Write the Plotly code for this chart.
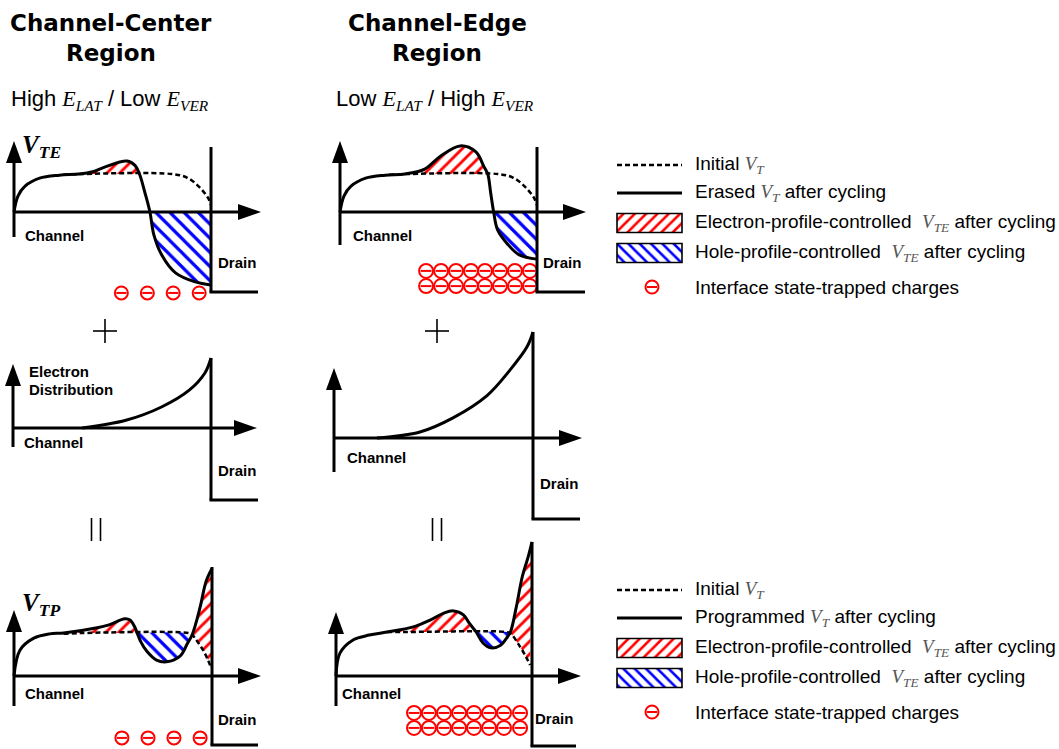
import plotly.graph_objects as go

W, H = 1059, 749
SANS = "Liberation Sans, Arial, sans-serif"
TITLE_FONT = "DejaVu Sans, Verdana, sans-serif"
SERIF = "Liberation Serif"
RED = "#ff0000"
BLUE = "#0000ff"
BLACK = "#000000"

# ---------------- data (panel units) ----------------
# x: 0 = channel origin, 1 = drain junction ; y: 0 = channel axis, 1 = initial V_T plateau
initial_erase_x = [0.25, 0.35, 0.80, 0.88, 0.94, 0.985, 1.0]
initial_erase_y = [0.98, 1.00, 1.00, 0.90, 0.66, 0.37, 0.18]

center_vte_x = [0, 0.02, 0.056, 0.13, 0.23, 0.33, 0.40, 0.46, 0.574, 0.615, 0.637, 0.665, 0.69, 0.71, 0.75, 0.82, 0.92, 1.0]
center_vte_y = [0, 0.42, 0.68, 0.89, 0.97, 1.00, 1.06, 1.18, 1.34, 1.22, 1.00, 0.50, 0, -0.60, -1.13, -1.60, -1.84, -1.92]

edge_vte_x = [0, 0.02, 0.056, 0.13, 0.23, 0.33, 0.43, 0.51, 0.61, 0.69, 0.73, 0.75, 0.765, 0.78, 0.80, 0.85, 0.91, 1.0]
edge_vte_y = [0, 0.42, 0.68, 0.89, 0.97, 1.00, 1.13, 1.47, 1.74, 1.58, 1.20, 1.00, 0.50, 0, -0.47, -0.84, -1.13, -1.24]

center_dist_x = [0.35, 0.57, 0.75, 0.89, 0.97, 1.0]
center_dist_y = [0, 0.11, 0.30, 0.54, 0.79, 1.0]
edge_dist_x = [0.216, 0.432, 0.598, 0.769, 0.884, 0.97, 1.0]
edge_dist_y = [0, 0.057, 0.19, 0.40, 0.64, 0.86, 1.0]

center_vtp_x = [0, 0.03, 0.10, 0.18, 0.25, 0.42, 0.48, 0.56, 0.586, 0.61, 0.622, 0.64, 0.67, 0.72, 0.77, 0.84, 0.875, 0.90, 0.94, 0.97, 1.0]
center_vtp_y = [0, 0.60, 0.88, 0.98, 1.00, 1.12, 1.19, 1.33, 1.30, 1.14, 1.00, 0.80, 0.58, 0.37, 0.33, 0.47, 0.75, 0.96, 1.60, 2.20, 2.50]
initial_center_vtp_x = [0.25, 0.35, 0.88, 0.90, 0.92, 0.955, 0.98, 0.995]
initial_center_vtp_y = [0.98, 1.00, 1.00, 0.96, 0.84, 0.60, 0.37, 0.19]

edge_vtp_x = [0, 0.02, 0.087, 0.17, 0.26, 0.39, 0.48, 0.55, 0.60, 0.65, 0.68, 0.715, 0.75, 0.79, 0.84, 0.87, 0.89, 0.92, 0.95, 0.98, 1.0]
edge_vtp_y = [0, 0.52, 0.82, 0.93, 1.00, 1.11, 1.27, 1.43, 1.48, 1.39, 1.20, 1.00, 0.75, 0.64, 0.70, 0.86, 1.00, 1.57, 2.25, 2.70, 3.05]
initial_edge_vtp_x = [0.26, 0.35, 0.87, 0.89, 0.94, 0.97, 0.99]
initial_edge_vtp_y = [1.00, 1.00, 1.00, 0.97, 0.66, 0.43, 0.25]

# interface-state trapped charges (panel units)
center_vte_charge_x = [0.545, 0.677, 0.808, 0.94]
center_vte_charge_y = [-2.13, -2.13, -2.13, -2.13]
center_vtp_charge_x = [0.545, 0.677, 0.808, 0.94]
center_vtp_charge_y = [-1.44, -1.44, -1.44, -1.44]
edge_vte_charge_x = [0.437, 0.513, 0.589, 0.665, 0.736, 0.812, 0.888, 0.964] * 2
edge_vte_charge_y = [-1.55] * 8 + [-1.95] * 8
edge_vtp_charge_x = [0.398, 0.474, 0.551, 0.628, 0.704, 0.781, 0.857, 0.939] * 2
edge_vtp_charge_y = [-0.84] * 8 + [-1.18] * 8

# text
titles = ["Channel-Center", "Channel-Edge"]
legend_top = ["Initial {VT}", "Erased {VT} after cycling",
              "Electron-profile-controlled\u00a0 {VTE} after cycling",
              "Hole-profile-controlled\u00a0 {VTE} after cycling",
              "Interface state-trapped charges"]
legend_bottom = ["Initial {VT}", "Programmed {VT} after cycling",
                 "Electron-profile-controlled\u00a0 {VTE} after cycling",
                 "Hole-profile-controlled\u00a0 {VTE} after cycling",
                 "Interface state-trapped charges"]

# ---------------- layout geometry (pixels) ----------------
# panel: origin x, axis y, drain x, pixels per y-unit
GEOM = {
    1: (14, 212, 211, 38),
    2: (340, 212, 537, 38),
    3: (13, 428, 211, 70),
    4: (334, 438, 533, 106),
    5: (14, 676, 212, 43),
    6: (336, 676, 532, 44),
}
DECOR = {
    1: dict(ytip=141, ybot=237, xtip=261, dtop=147, dbot=292, dend=258),
    2: dict(ytip=141, ybot=245, xtip=586, dtop=147, dbot=292, dend=585),
    3: dict(ytip=364, ybot=447, xtip=257, dtop=358, dbot=500, dend=258),
    4: dict(ytip=368, ybot=472, xtip=582, dtop=332, dbot=519, dend=580),
    5: dict(ytip=610, ybot=706, xtip=261, dtop=567, dbot=745, dend=258),
    6: dict(ytip=612, ybot=706, xtip=581, dtop=542, dbot=746, dend=576),
}

fig = go.Figure()


def ax(i):
    return ('x' if i == 1 else f'x{i}'), ('y' if i == 1 else f'y{i}')


def seg(xs, ys, lo, hi):
    pts = [(x, y) for x, y in zip(xs, ys) if lo - 1e-9 <= x <= hi + 1e-9]
    return [p[0] for p in pts], [p[1] for p in pts]


def hatch(i, bx, by, tx, ty, color, shape, size):
    xa, ya = ax(i)
    fig.add_trace(go.Scatter(x=bx, y=by, xaxis=xa, yaxis=ya, mode='lines',
                             line=dict(width=0, color='rgba(0,0,0,0)', shape='spline'),
                             hoverinfo='skip', showlegend=False))
    fig.add_trace(go.Scatter(x=tx, y=ty, xaxis=xa, yaxis=ya, mode='lines',
                             line=dict(width=0, color='rgba(0,0,0,0)', shape='spline'),
                             fill='tonexty',
                             fillpattern=dict(shape=shape, fgcolor=color, bgcolor='white',
                                              size=size, solidity=0.32, fillmode='replace'),
                             hoverinfo='skip', showlegend=False))


def curve(i, xs, ys, dash=None, width=3):
    xa, ya = ax(i)
    fig.add_trace(go.Scatter(x=xs, y=ys, xaxis=xa, yaxis=ya, mode='lines',
                             line=dict(color=BLACK, width=width, dash=dash, shape='spline', smoothing=1),
                             hoverinfo='skip', showlegend=False))


def charges(i, xs, ys, size=13, xref=None):
    xa, ya = ax(i) if xref is None else xref
    fig.add_trace(go.Scatter(x=xs, y=ys, xaxis=xa, yaxis=ya, mode='markers',
                             marker=dict(symbol='circle-open', size=size, color=RED,
                                         line=dict(width=2, color=RED)),
                             hoverinfo='skip', showlegend=False))
    fig.add_trace(go.Scatter(x=xs, y=ys, xaxis=xa, yaxis=ya, mode='markers',
                             marker=dict(symbol='line-ew', size=size * 0.55, color=RED,
                                         line=dict(width=2, color=RED)),
                             hoverinfo='skip', showlegend=False))


DASH = '5px,3px'
RS, BS = 9, 10

# --- hatched regions ---
# panel 1: center V_TE
x, y = seg(center_vte_x, center_vte_y, 0.33, 0.637)
hatch(1, [x[0], x[-1]], [1, 1], x, y, RED, '/', RS)
x, y = seg(center_vte_x, center_vte_y, 0.69, 1.0)
hatch(1, [x[0], x[-1]], [0, 0], x, y, BLUE, '\\', BS)
# panel 2: edge V_TE
x, y = seg(edge_vte_x, edge_vte_y, 0.33, 0.75)
hatch(2, [x[0], x[-1]], [1, 1], x, y, RED, '/', RS)
x, y = seg(edge_vte_x, edge_vte_y, 0.78, 1.0)
hatch(2, [x[0], x[-1]], [0, 0], x, y, BLUE, '\\', BS)
# panel 5: center V_TP
x, y = seg(center_vtp_x, center_vtp_y, 0.25, 0.622)
hatch(5, [x[0], x[-1]], [1, 1], x, y, RED, '/', RS)
x, y = seg(center_vtp_x, center_vtp_y, 0.622, 0.90)
bx, by = seg(initial_center_vtp_x, initial_center_vtp_y, 0.622, 0.90)
hatch(5, [0.622] + bx, [1.0] + by, x, y, BLUE, '\\', BS)
x, y = seg(center_vtp_x, center_vtp_y, 0.90, 1.0)
bx, by = seg(initial_center_vtp_x, initial_center_vtp_y, 0.90, 1.0)
hatch(5, bx, by, x, y, RED, '/', RS)
# panel 6: edge V_TP
x, y = seg(edge_vtp_x, edge_vtp_y, 0.26, 0.715)
hatch(6, [x[0], x[-1]], [1, 1], x, y, RED, '/', RS)
x, y = seg(edge_vtp_x, edge_vtp_y, 0.715, 0.89)
bx, by = seg(initial_edge_vtp_x, initial_edge_vtp_y, 0.715, 0.89)
hatch(6, [0.715] + bx, [1.0] + by, x, y, BLUE, '\\', BS)
x, y = seg(edge_vtp_x, edge_vtp_y, 0.89, 1.0)
bx, by = seg(initial_edge_vtp_x, initial_edge_vtp_y, 0.89, 1.0)
hatch(6, bx, by, x, y, RED, '/', RS)

# --- curves ---
curve(1, initial_erase_x, initial_erase_y, dash=DASH, width=2.5)
curve(2, initial_erase_x, initial_erase_y, dash=DASH, width=2.5)
curve(5, initial_center_vtp_x, initial_center_vtp_y, dash=DASH, width=2.5)
curve(6, initial_edge_vtp_x, initial_edge_vtp_y, dash=DASH, width=2.5)
curve(1, center_vte_x, center_vte_y)
curve(2, edge_vte_x, edge_vte_y)
curve(3, center_dist_x, center_dist_y)
curve(4, edge_dist_x, edge_dist_y)
curve(5, center_vtp_x, center_vtp_y)
curve(6, edge_vtp_x, edge_vtp_y)

# --- charges ---
charges(1, center_vte_charge_x, center_vte_charge_y, 13)
charges(5, center_vtp_charge_x, center_vtp_charge_y, 13)
charges(2, edge_vte_charge_x, edge_vte_charge_y, 14)
charges(6, edge_vtp_charge_x, edge_vtp_charge_y, 14)

# --- axes decorations (pixel space) ---
shapes = []


def pline(x0, y0, x1, y1, w=3, color=BLACK, dash=None):
    shapes.append(dict(type='line', xref='x7', yref='y7', x0=x0, y0=y0, x1=x1, y1=y1,
                       line=dict(color=color, width=w, dash=dash), layer='above'))


def ppath(path):
    shapes.append(dict(type='path', xref='x7', yref='y7', path=path, fillcolor=BLACK,
                       line=dict(width=0), layer='above'))


for i, (ox, oy, dx, uy) in GEOM.items():
    d = DECOR[i]
    pline(ox, d['ybot'], ox, d['ytip'] + 12)
    ppath(f"M{ox-8},{d['ytip']+22} L{ox+8},{d['ytip']+22} L{ox},{d['ytip']} Z")
    pline(ox, oy, d['xtip'] - 12, oy)
    ppath(f"M{d['xtip']-23},{oy-8} L{d['xtip']-23},{oy+8} L{d['xtip']},{oy} Z")
    pline(dx, d['dtop'], dx, d['dbot'])
    pline(dx - 1.5, d['dbot'], d['dend'], d['dbot'])

# plus and equals signs
for cx in (105, 437):
    pline(cx - 12, 331, cx + 12, 331, w=1.6)
    pline(cx, 319, cx, 343, w=1.6)
for cx in (96, 437):
    pline(cx - 4.5, 518, cx - 4.5, 541, w=1.6)
    pline(cx + 4.5, 518, cx + 4.5, 541, w=1.6)

# --- legends ---
ann = []


def label(x, y, text, size=15, bold=True, family=SANS, xanchor='left', color=BLACK):
    ann.append(dict(x=x, y=y, xref='x7', yref='y7', text=(f'<b>{text}</b>' if bold else text),
                    showarrow=False, xanchor=xanchor, yanchor='middle',
                    font=dict(family=family, size=size, color=color)))


VT = f'<span style="font-family:{SERIF};color:#555555"><i>V</i><sub><i>T</i></sub></span>'
VTE = f'<span style="font-family:{SERIF};color:#555555"><i>V</i><sub><i>TE</i></sub></span>'

for texts, ys in ((legend_top, (165, 193, 223, 253, 287)), (legend_bottom, (590, 618, 648, 678, 712))):
    pline(617, ys[0], 682, ys[0], w=2.5, dash='5px,3px')
    pline(617, ys[1], 682, ys[1], w=3)
    for k, (col, shp) in enumerate(((RED, '/'), (BLUE, '\\'))):
        yc = ys[2 + k]
        y0, y1 = yc - 9.5, yc + 9.5
        fig.add_trace(go.Scatter(x=[617, 682, 682, 617, 617], y=[y0, y0, y1, y1, y0],
                                 xaxis='x7', yaxis='y7', mode='lines', fill='toself',
                                 line=dict(width=0, color='rgba(0,0,0,0)'),
                                 fillpattern=dict(shape=shp, fgcolor=col, bgcolor='white',
                                                  size=8, solidity=0.32, fillmode='replace'),
                                 hoverinfo='skip', showlegend=False))
        shapes.append(dict(type='rect', xref='x7', yref='y7', x0=617, x1=682, y0=y0, y1=y1,
                           line=dict(color=BLACK, width=1.6), layer='above'))
    charges(None, [652], [ys[4]], 13, xref=('x7', 'y7'))
    for t, yy in zip(texts, ys):
        label(693, yy, t.format(VT=VT, VTE=VTE), size=19, bold=False)

# --- titles ---
for cx, t in ((111, titles[0]), (437, titles[1])):
    label(cx, 23, t, size=23, family=TITLE_FONT, xanchor='center')
    label(cx, 53, 'Region', size=23, family=TITLE_FONT, xanchor='center')

EL = f'<span style="font-family:{SERIF}"><i>E</i><sub><i>LAT</i></sub></span>'
EV = f'<span style="font-family:{SERIF}"><i>E</i><sub><i>VER</i></sub></span>'
label(9, 100, f'High {EL} / Low {EV}', size=22, bold=False)
label(334, 100, f'Low {EL} / High {EV}', size=22, bold=False)

# axis titles
label(20, 146, f'<span style="font-family:{SERIF}"><i>V</i><sub><i>TE</i></sub></span>', size=25)
label(20, 604, f'<span style="font-family:{SERIF}"><i>V</i><sub><i>TP</i></sub></span>', size=25)
label(27, 371, 'Electron', size=15)
label(27, 389, 'Distribution', size=15)

for i, (cxl, cyl, dxl, dyl) in {1: (23, 235, 216, 262), 2: (351, 235, 541, 262),
                                 3: (22, 442, 216, 470), 4: (345, 457, 538, 483),
                                 5: (23, 693, 216, 719), 6: (340, 693, 533, 718)}.items():
    label(cxl, cyl, 'Channel', size=15)
    label(dxl, dyl, 'Drain', size=15)

# ---------------- layout ----------------
layout = dict(width=W, height=H, margin=dict(l=0, r=0, t=0, b=0, pad=0),
              paper_bgcolor='white', plot_bgcolor='rgba(0,0,0,0)',
              showlegend=False, shapes=shapes, annotations=ann)
for i, (ox, oy, dx, uy) in GEOM.items():
    ux = dx - ox
    xa = 'xaxis' if i == 1 else f'xaxis{i}'
    ya = 'yaxis' if i == 1 else f'yaxis{i}'
    layout[xa] = dict(domain=[0, 1], range=[-ox / ux, (W - ox) / ux], visible=False,
                      fixedrange=True, anchor=('y' if i == 1 else f'y{i}'))
    layout[ya] = dict(domain=[0, 1], range=[(oy - H) / uy, oy / uy], visible=False,
                      fixedrange=True, anchor=('x' if i == 1 else f'x{i}'))
layout['xaxis7'] = dict(domain=[0, 1], range=[0, W], visible=False, fixedrange=True, anchor='y7')
layout['yaxis7'] = dict(domain=[0, 1], range=[H, 0], visible=False, fixedrange=True, anchor='x7')
fig.update_layout(**layout)

fig.write_html("out.html")
